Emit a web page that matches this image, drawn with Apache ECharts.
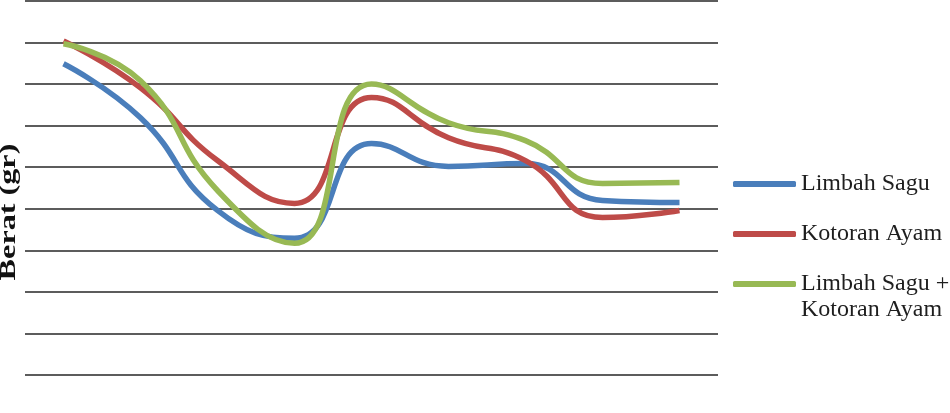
<!DOCTYPE html>
<html>
<head>
<meta charset="utf-8">
<script src="https://cdn.jsdelivr.net/npm/echarts@6/dist/echarts.min.js"></script>
<style>
html,body{margin:0;padding:0;background:#fff;}
#c{width:950px;height:413px;}
</style>
</head>
<body>
<div id="c"></div>
<script>
const categories = ['1','2','3','4','5','6','7','8','9'];
const limbahSagu = [7.49, 6.19, 3.96, 3.29, 5.57, 5.02, 5.09, 4.20, 4.15];
const kotoranAyam = [8.04, 6.91, 5.16, 4.13, 6.68, 5.71, 5.16, 3.79, 3.96];
const campuran = [7.97, 7.08, 4.44, 3.17, 7.00, 6.07, 5.64, 4.61, 4.63];
const seriesNames = ['Limbah Sagu', 'Kotoran Ayam', 'Limbah Sagu +\nKotoran Ayam'];
const yTitle = 'Berat (gr)';
const colors = ['#4A7EBB', '#BE4B48', '#98B954'];

const chart = echarts.init(document.getElementById('c'));
const dataSets = [limbahSagu, kotoranAyam, campuran];
const legendText = {fontFamily: 'Liberation Serif', fontSize: 24, color: '#1e1e1e', lineHeight: 26};
chart.setOption({
  animation: false,
  color: colors,
  grid: {left: 25, right: 232, top: 1, bottom: 38, containLabel: false, outerBoundsMode: 'none'},
  xAxis: {
    type: 'category', data: categories, boundaryGap: true,
    axisLine: {show: false}, axisTick: {show: false}, axisLabel: {show: false}
  },
  yAxis: {
    type: 'value', min: 0, max: 9, interval: 1,
    axisLine: {show: false}, axisTick: {show: false}, axisLabel: {show: false},
    splitLine: {show: true, lineStyle: {color: '#262626', width: 1.6}}
  },
  graphic: [{
    type: 'text', x: 9, y: 212, rotation: Math.PI / 2, scaleX: 1.4,
    style: {text: yTitle, fontFamily: 'Liberation Serif', fontWeight: 'bold', fontSize: 23,
      fill: '#111', align: 'center', verticalAlign: 'middle'}
  }],
  legend: [{
    orient: 'vertical', left: 733, top: 171, itemGap: 24, padding: 0,
    itemWidth: 63, itemHeight: 6, icon: 'roundRect',
    textStyle: legendText,
    data: seriesNames.slice(0, 2)
  }, {
    orient: 'vertical', left: 733, top: 245, itemGap: 0, padding: 0,
    itemWidth: 63, itemHeight: 6, icon: 'roundRect',
    textStyle: legendText,
    formatter: name => '\n' + name,
    data: seriesNames.slice(2)
  }],
  series: dataSets.map((d, i) => ({
    name: seriesNames[i], type: 'line', data: d, smooth: 0.5,
    symbol: 'none', lineStyle: {width: 5.5, color: colors[i]}, itemStyle: {color: colors[i]}
  }))
});
</script>
</body>
</html>
